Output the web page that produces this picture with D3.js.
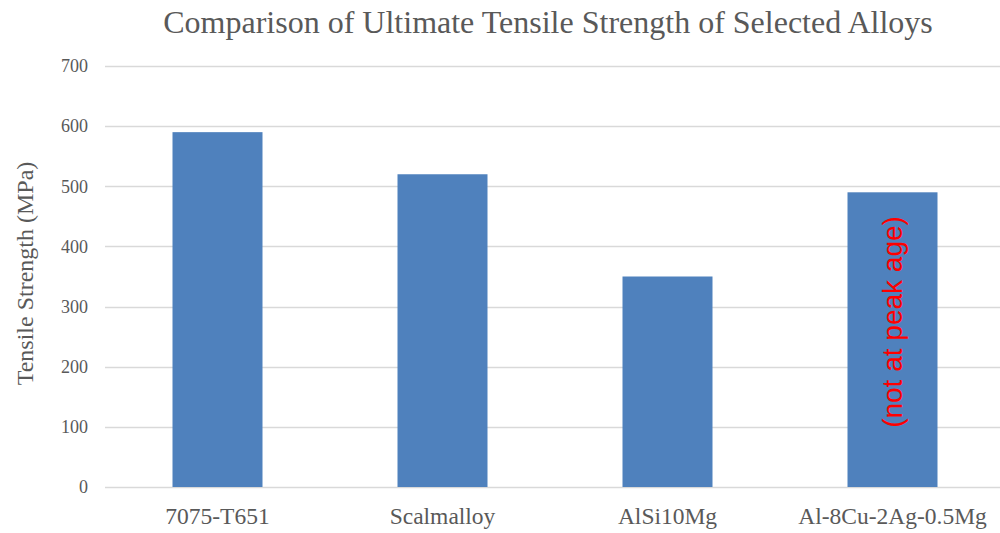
<!DOCTYPE html>
<html>
<head>
<meta charset="utf-8">
<script src="https://cdn.jsdelivr.net/npm/d3@7"></script>
<style>
  html, body { margin: 0; padding: 0; background: #fff; }
  svg { display: block; }
  .serif { font-family: "Liberation Serif", "Times New Roman", serif; }
  .sans { font-family: "Liberation Sans", Arial, sans-serif; }
</style>
</head>
<body>
<svg id="chart" width="1000" height="533"></svg>
<script>
// Alloy names and their ultimate tensile strength (MPa)
const alloys = ["7075-T651", "Scalmalloy", "AlSi10Mg", "Al-8Cu-2Ag-0.5Mg"];
const strengths = [590, 520, 350, 490];
const yTicks = [0, 100, 200, 300, 400, 500, 600, 700];
const barNote = { alloy: "Al-8Cu-2Ag-0.5Mg", text: "(not at peak age)" };

const svg = d3.select("#chart");
const margin = { left: 105, right: -5, top: 66, bottom: 46 };
const W = 1000, H = 533;

const x = d3.scaleBand()
  .domain(alloys)
  .range([margin.left, W - margin.right])
  .paddingInner(0.6)
  .paddingOuter(0.3);

const y = d3.scaleLinear()
  .domain([0, 700])
  .range([H - margin.bottom, margin.top]);

const textColor = "#595959";

// Title
svg.append("text")
  .attr("class", "serif")
  .attr("x", 548)
  .attr("y", 33)
  .attr("text-anchor", "middle")
  .style("font-size", "32px")
  .attr("fill", textColor)
  .text("Comparison of Ultimate Tensile Strength of Selected Alloys");

// Horizontal gridlines
svg.append("g")
  .selectAll("line")
  .data(yTicks)
  .join("line")
  .attr("x1", margin.left)
  .attr("x2", W)
  .attr("y1", d => Math.round(y(d)) + 0.5)
  .attr("y2", d => Math.round(y(d)) + 0.5)
  .attr("stroke", "#d9d9d9")
  .attr("stroke-width", 1.3);

// Y axis labels
const yAxis = d3.axisLeft(y).tickValues(yTicks).tickSize(0).tickPadding(17)
  .tickFormat(d3.format("d"));
const yG = svg.append("g")
  .attr("transform", `translate(${margin.left},0)`)
  .call(yAxis)
  .attr("font-family", null)
  .attr("font-size", null);
yG.select(".domain").remove();
yG.selectAll("text")
  .attr("class", "serif")
  .style("font-size", "18px")
  .attr("fill", textColor);

// Y axis title
svg.append("text")
  .attr("class", "serif")
  .attr("transform", `translate(33,${(y(0) + y(700)) / 2 - 3}) rotate(-90)`)
  .attr("text-anchor", "middle")
  .style("font-size", "24px")
  .attr("fill", textColor)
  .text("Tensile Strength (MPa)");

// Bars
const data = alloys.map((a, i) => ({ alloy: a, value: strengths[i] }));
svg.append("g")
  .selectAll("rect")
  .data(data)
  .join("rect")
  .attr("x", d => x(d.alloy))
  .attr("width", x.bandwidth())
  .attr("y", d => y(d.value))
  .attr("height", d => y(0) - y(d.value))
  .attr("fill", "#4f81bd");

// X axis labels
const xAxis = d3.axisBottom(x).tickSize(0).tickPadding(20);
const xG = svg.append("g")
  .attr("transform", `translate(0,${y(0)})`)
  .call(xAxis)
  .attr("font-family", null)
  .attr("font-size", null);
xG.select(".domain").remove();
xG.selectAll("text")
  .attr("class", "serif")
  .style("font-size", "23.5px")
  .attr("fill", textColor);

// Note written up the side of one bar
svg.append("text")
  .attr("class", "sans")
  .attr("transform", `translate(${x(barNote.alloy) + x.bandwidth() / 2},${y(0) - 165}) rotate(-90)`)
  .attr("text-anchor", "middle")
  .attr("dominant-baseline", "central")
  .style("font-size", "28px")
  .attr("fill", "#ff0000")
  .text(barNote.text);
</script>
</body>
</html>
